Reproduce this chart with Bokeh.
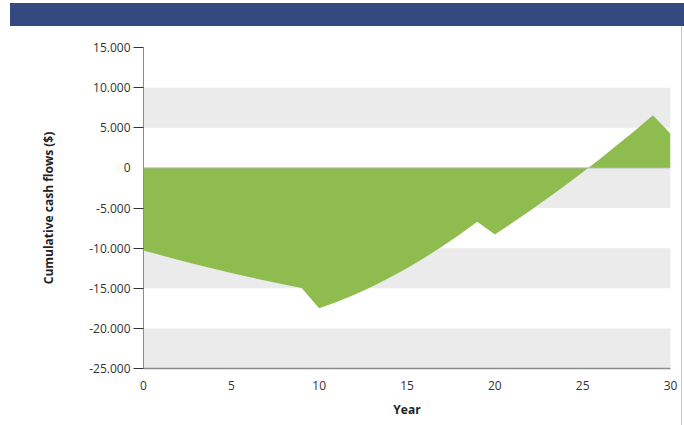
from bokeh.plotting import figure
from bokeh.models import FixedTicker, Span, Div, BoxAnnotation
from bokeh.layouts import column, row
from bokeh.embed import file_html
from bokeh.resources import INLINE

# Cumulative cash flows by year ($)
years = list(range(31))
cumulative = [
    -10300, -10900, -11480, -12040, -12580, -13100, -13600, -14080, -14540, -14980,
    -17500, -16700, -15800, -14800, -13700, -12500, -11200, -9800, -8300, -6700,
    -8300, -6850, -5350, -3800, -2200, -550, 1150, 2900, 4700, 6550,
    4250,
]

y_ticks = [-25000, -20000, -15000, -10000, -5000, 0, 5000, 10000, 15000]
y_tick_labels = ["-25.000", "-20.000", "-15.000", "-10.000", "-5.000", "0",
                 "5.000", "10.000", "15.000"]
x_ticks = [0, 5, 10, 15, 20, 25, 30]
# lower edges of the shaded horizontal bands (each band is one tick step tall)
band_bottoms = [-25000, -15000, -5000, 5000]
band_step = 5000

FONT = "Open Sans"
GREEN = "#8fbc4f"

p = figure(
    width=681, height=399,
    x_range=(0, 30), y_range=(-25000, 15000),
    output_backend="svg", toolbar_location=None,
    min_border_left=143, min_border_right=11,
    min_border_top=21, min_border_bottom=57,
)
p.outline_line_color = None
p.background_fill_color = "white"
p.border_fill_color = "white"
p.grid.visible = False

for b in band_bottoms:
    p.add_layout(BoxAnnotation(bottom=b, top=b + band_step, fill_color="#ebebeb",
                               fill_alpha=1.0, line_color=None, level="underlay"))

# filled area between zero and the cumulative series
p.varea(x=years, y1=0, y2=cumulative, fill_color=GREEN, fill_alpha=1.0)
p.add_layout(Span(location=0, dimension="width", line_color="#b4b4b4", line_width=1))

# y axis: tick marks on every level except zero
yax = p.yaxis[0]
yax.ticker = FixedTicker(ticks=y_ticks, minor_ticks=[t for t in y_ticks if t != 0])
yax.major_label_overrides = {t: s for t, s in zip(y_ticks, y_tick_labels)}
yax.major_tick_line_color = None
yax.major_tick_out = 10
yax.major_tick_in = 0
yax.minor_tick_line_color = "#333333"
yax.minor_tick_out = 10
yax.minor_tick_in = 0
yax.axis_line_color = "#8c8c8c"
yax.major_label_standoff = 3
yax.major_label_text_font = FONT
yax.major_label_text_font_size = "12px"
yax.major_label_text_color = "#333333"
yax.axis_label = "Cumulative cash flows ($)"
yax.axis_label_text_font = FONT
yax.axis_label_text_font_size = "12px"
yax.axis_label_text_font_style = "bold"
yax.axis_label_text_color = "#222222"
yax.axis_label_standoff = 29

xax = p.xaxis[0]
xax.ticker = FixedTicker(ticks=x_ticks)
xax.major_tick_line_color = None
xax.minor_tick_line_color = None
xax.major_tick_out = 0
xax.major_tick_in = 0
xax.axis_line_color = "#8c8c8c"
xax.axis_line_width = 1.5
xax.major_label_standoff = 12
xax.major_label_text_font = FONT
xax.major_label_text_font_size = "12px"
xax.major_label_text_color = "#333333"
xax.axis_label = "Year"
xax.axis_label_text_font = FONT
xax.axis_label_text_font_size = "12px"
xax.axis_label_text_font_style = "bold"
xax.axis_label_text_color = "#222222"
xax.axis_label_standoff = 8

header = Div(width=674, height=23, margin=(3, 0, 0, 10),
             styles={"background-color": "#34497f"})
edge = Div(width=1, height=399, margin=(0, 0, 0, 0),
           styles={"background-color": "#c8c8c8"})

layout = column(header, row(p, edge, spacing=0), spacing=0)

html = file_html(layout, INLINE, "Cumulative cash flows")
with open("out.html", "w") as f:
    f.write(html)
